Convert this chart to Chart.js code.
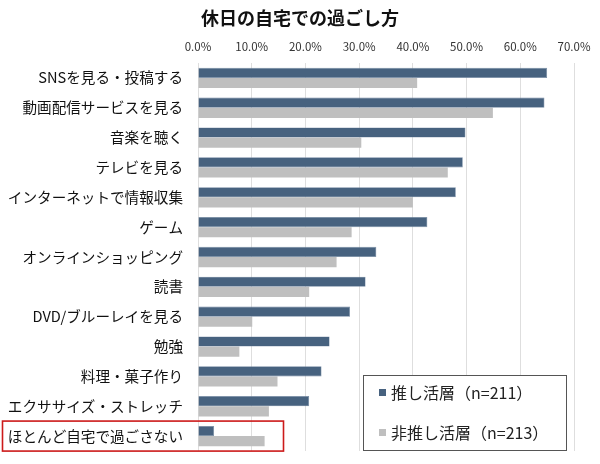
<!DOCTYPE html>
<html lang="ja">
<head>
    <meta charset="UTF-8">
    <title>休日の自宅での過ごし方</title>
    <script src="https://cdn.jsdelivr.net/npm/chart.js@4.4.1/dist/chart.umd.min.js"></script>
    <style>
        html, body { margin: 0; padding: 0; background: #fff; }
        #wrap { width: 600px; height: 464px; }
    </style>
</head>
<body>
    <div id="wrap"><canvas id="chart"></canvas></div>

    <script>
        // 項目
        var categories = [
            'SNSを見る・投稿する', '動画配信サービスを見る', '音楽を聴く', 'テレビを見る',
            'インターネットで情報収集', 'ゲーム', 'オンラインショッピング', '読書',
            'DVD/ブルーレイを見る', '勉強', '料理・菓子作り', 'エクササイズ・ストレッチ',
            'ほとんど自宅で過ごさない'
        ];
        // 推し活層 (n=211)
        var oshiValues = [65.0, 64.5, 49.8, 49.3, 48.0, 42.7, 33.2, 31.2, 28.3, 24.5, 23.0, 20.7, 3.0];
        // 非推し活層 (n=213)
        var nonOshiValues = [40.8, 54.9, 30.4, 46.5, 40.0, 28.6, 25.8, 20.7, 10.1, 7.7, 14.8, 13.2, 12.4];
        var seriesNames = ['推し活層（n=211）', '非推し活層（n=213）'];
        var chartTitle = '休日の自宅での過ごし方';

        var jpFont = '"Noto Sans CJK JP", "Noto Sans", sans-serif';

        // タイトル・凡例・赤枠を描く
        var extras = {
            id: 'extras',
            afterDraw: function(chart) {
                var ctx = chart.ctx;
                var y = chart.scales.y;
                ctx.save();

                // タイトル
                ctx.fillStyle = '#111';
                ctx.font = 'bold 18px ' + jpFont;
                ctx.textAlign = 'center';
                ctx.textBaseline = 'middle';
                ctx.fillText(chartTitle, 300, 18);

                // 凡例
                ctx.fillStyle = '#fff';
                ctx.fillRect(363, 375, 203, 75);
                ctx.strokeStyle = '#555';
                ctx.lineWidth = 1;
                ctx.strokeRect(363.5, 375.5, 203, 75);
                ctx.font = '16px ' + jpFont;
                ctx.textAlign = 'left';
                chart.data.datasets.forEach(function(ds, i) {
                    var cy = 393 + i * 40;
                    ctx.fillStyle = ds.backgroundColor;
                    ctx.fillRect(379, cy - 4, 7, 7);
                    ctx.fillStyle = '#222';
                    ctx.fillText(ds.label, 391, cy);
                });

                // 最後の項目を赤枠で囲む
                var last = categories.length - 1;
                var cy2 = y.getPixelForValue(last);
                ctx.strokeStyle = '#cc1a1a';
                ctx.lineWidth = 1.6;
                ctx.strokeRect(2.5, cy2 - 15, 281, 30);
                ctx.restore();
            }
        };

        var ctx = document.getElementById('chart').getContext('2d');
        var chart = new Chart(ctx, {
            type: 'bar',
            data: {
                labels: categories,
                datasets: [{
                    label: seriesNames[0],
                    data: oshiValues,
                    backgroundColor: '#47627f',
                    borderColor: '#7389a3',
                    borderWidth: 0.6,
                    categoryPercentage: 0.68,
                    barPercentage: 1.0
                }, {
                    label: seriesNames[1],
                    data: nonOshiValues,
                    backgroundColor: '#bfbfbf',
                    borderWidth: 0,
                    categoryPercentage: 0.68,
                    barPercentage: 1.0
                }]
            },
            options: {
                indexAxis: 'y',
                responsive: true,
                maintainAspectRatio: false,
                animation: false,
                layout: {
                    padding: { top: 33, right: 26, bottom: 13, left: 0 }
                },
                plugins: {
                    legend: { display: false },
                    title: { display: false },
                    tooltip: { enabled: false }
                },
                scales: {
                    x: {
                        position: 'top',
                        min: 0,
                        max: 70,
                        afterFit: function(scale) { scale.height = 30; },
                        ticks: {
                            stepSize: 10,
                            padding: 9,
                            color: '#333',
                            font: { size: 11.5, family: jpFont },
                            callback: function(v) { return v.toFixed(1) + '%'; }
                        },
                        grid: { color: '#dedede', drawTicks: false },
                        border: { display: false }
                    },
                    y: {
                        afterFit: function(scale) {
                            scale.width = 198;
                            scale.paddingTop = 0;
                            scale.paddingBottom = 0;
                        },
                        ticks: {
                            padding: 15,
                            color: '#111',
                            font: { size: 14.6, family: jpFont }
                        },
                        grid: { display: false, drawTicks: false },
                        border: { display: false }
                    }
                }
            },
            plugins: [extras]
        });
    </script>
</body>
</html>
